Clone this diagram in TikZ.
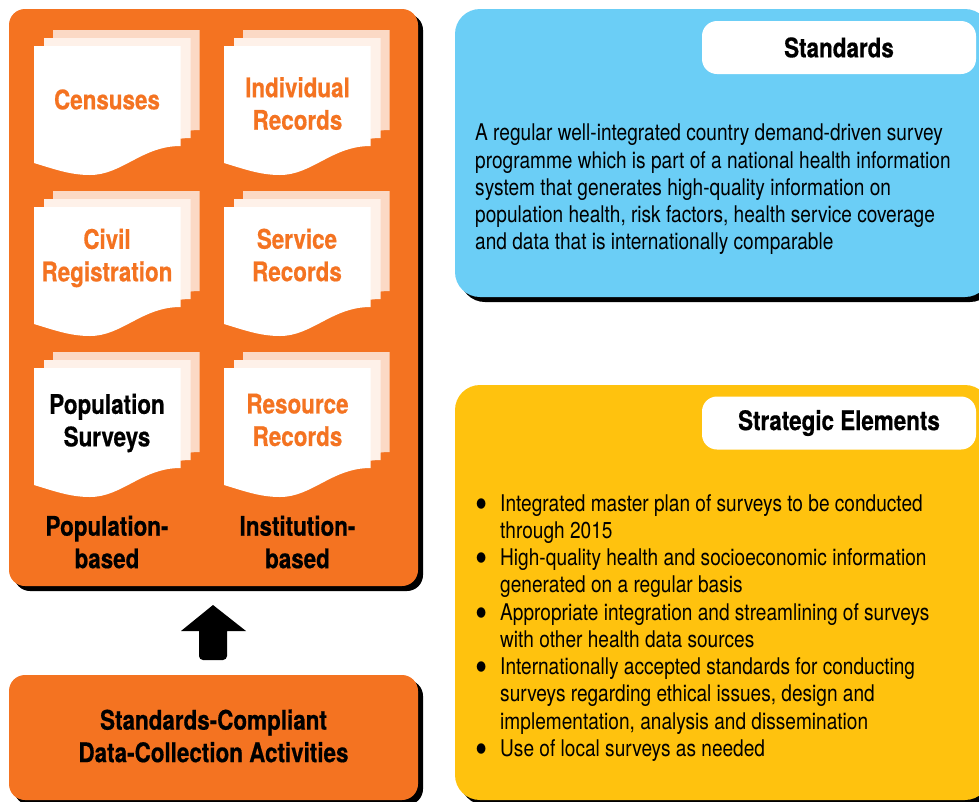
\documentclass[tikz,border=0pt]{standalone}
\usepackage{fontspec}
\setmainfont[FakeStretch=0.83,BoldFeatures={FakeBold=0.5}]{TeX Gyre Heros}
\usepackage{tikz}
\usetikzlibrary{
	positioning
}
\definecolor{panelorange}{HTML}{F47321}
\definecolor{panelblue}{HTML}{6BCEF6}
\definecolor{panelyellow}{HTML}{FFC20E}
\definecolor{sheetback}{HTML}{FBD9C5}
\definecolor{sheetmid}{HTML}{FEF1E9}
\tikzset{
	x=1pt,
	y=-1pt,
	sheetlabel/.style={
		align=center,
		font=\fontsize{27}{32.5}\selectfont\bfseries,
		text=panelorange
	},
	grouplabel/.style={
		align=center,
		font=\fontsize{27}{32.5}\selectfont\bfseries
	},
	headbox/.style={
		fill=white,
		rounded corners=15pt,
		minimum width=274pt,
		minimum height=53pt,
		font=\fontsize{27}{30}\selectfont\bfseries
	},
	bodytext/.style={
		align=left,
		anchor=north west,
		inner sep=0pt,
		font=\fontsize{23}{27.25}\selectfont
	}
}
% one stack of three sheets, x and y give the front sheet
\newcommand{\sheet}[3]{
	\fill[#3] (#1,#2) -- (#1+146.5,#2) -- (#1+146.5,#2+100)
		.. controls (#1+108,#2+100) and (#1+88,#2+129) .. (#1+56,#2+129)
		.. controls (#1+36,#2+129) and (#1+20,#2+123) .. (#1,#2+117) -- cycle;
}
\newcommand{\sheetstack}[2]{
	\sheet{#1+19}{#2-16}{sheetback}
	\sheet{#1+10}{#2-8}{sheetmid}
	\sheet{#1}{#2}{white}
}
\newcommand{\panel}[6]{
	\fill[black,rounded corners=#5] (#1+5,#2+5) rectangle (#3+5,#4+5);
	\fill[#6,rounded corners=#5] (#1,#2) rectangle (#3,#4);
}
\newcommand{\dotitem}{\makebox[25pt][l]{\smash{\raisebox{-7pt}{\fontsize{42}{42}\selectfont•}}}}
\begin{document}
\begin{tikzpicture}
	\useasboundingbox (0,0) rectangle (979,801);
	\clip (0,0) rectangle (979,801);

	% left side
	\panel{9}{9}{418}{586}{16pt}{panelorange}
	\panel{9}{675}{418}{800}{16pt}{panelorange}
	\foreach \sx in {34,224}
		\foreach \sy in {46,207,368}
			\sheetstack{\sx}{\sy};

	\node[sheetlabel] (censuses)   at (107,99.5) {Censuses};
	\node[sheetlabel] (individual) at (297.5,103.5) {Individual\\Records};
	\node[sheetlabel] (civil)      at (107,258) {Civil\\Registration};
	\node[sheetlabel] (service)    at (297,255) {Service\\Records};
	\node[sheetlabel,text=black] (surveys) at (107,423) {Population\\Surveys};
	\node[sheetlabel] (resource)   at (297.5,420) {Resource\\Records};
	\node[grouplabel] (population) at (107,542) {Population-\\based};
	\node[grouplabel] (institution) at (297.5,542) {Institution-\\based};
	\node[grouplabel] (activities) at (213.5,736) {Standards-Compliant\\Data-Collection Activities};

	\fill[black] (213,605) -- (246,631) -- (227,631)
		[rounded corners=4pt] -- (227,660) -- (199,660) [sharp corners] -- (199,631) -- (181,631) -- cycle;

	% right side
	\panel{455}{9}{990}{297}{25pt}{panelblue}
	\panel{455}{385}{990}{800}{25pt}{panelyellow}

	\node[headbox] (standards) at (839,47.5) {Standards};
	\node[headbox] (elements) at (839,423) {Strategic Elements};

	\node[bodytext] (standardstext) at (475,124) {A regular well-integrated country demand-driven survey\\
		programme which is part of a national health information\\
		system that generates high-quality information on\\
		population health, risk factors, health service coverage\\
		and data that is internationally comparable};

	\node[bodytext] (elementstext) at (475,494) {%
		\dotitem Integrated master plan of surveys to be conducted\\
		\hspace*{25pt}through 2015\\
		\dotitem High-quality health and socioeconomic information\\
		\hspace*{25pt}generated on a regular basis\\
		\dotitem Appropriate integration and streamlining of surveys\\
		\hspace*{25pt}with other health data sources\\
		\dotitem Internationally accepted standards for conducting\\
		\hspace*{25pt}surveys regarding ethical issues, design and\\
		\hspace*{25pt}implementation, analysis and dissemination\\
		\dotitem Use of local surveys as needed};
\end{tikzpicture}
\end{document}
